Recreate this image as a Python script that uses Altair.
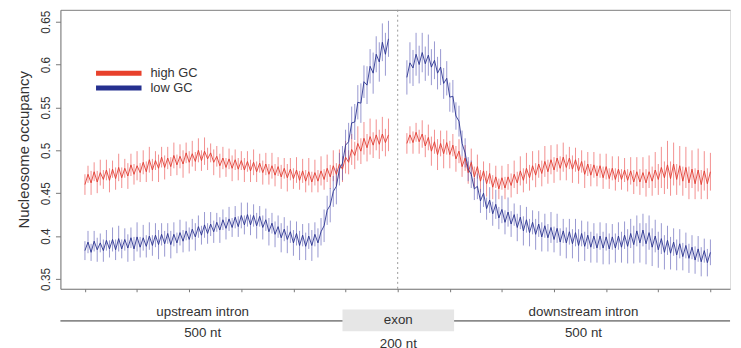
import altair as alt
import pandas as pd

# ---- data ----
upstream_nt = list(range(-500, 0, 5))      # 100 positions in the upstream intron
downstream_nt = list(range(5, 505, 5))     # 100 positions in the downstream intron

high_up = [0.460,0.472,0.462,0.475,0.463,0.474,0.466,0.477,0.465,0.478,
           0.467,0.480,0.468,0.479,0.470,0.483,0.472,0.482,0.474,0.486,
           0.475,0.489,0.477,0.488,0.479,0.492,0.480,0.491,0.481,0.494,
           0.483,0.493,0.484,0.497,0.486,0.496,0.487,0.500,0.488,0.499,
           0.490,0.497,0.486,0.493,0.482,0.491,0.480,0.490,0.479,0.489,
           0.478,0.488,0.477,0.487,0.476,0.486,0.475,0.485,0.474,0.484,
           0.472,0.482,0.471,0.481,0.469,0.479,0.468,0.478,0.467,0.477,
           0.465,0.476,0.464,0.475,0.463,0.474,0.464,0.476,0.466,0.479,
           0.469,0.482,0.472,0.484,0.478,0.492,0.486,0.501,0.494,0.508,
           0.499,0.514,0.503,0.516,0.506,0.518,0.507,0.519,0.509,0.518]
high_up_err = [0.012,0.010,0.014,0.011,0.013,0.015,0.011,0.012,0.014,0.010,
               0.013,0.016,0.012,0.011,0.015,0.013,0.012,0.017,0.011,0.014,
               0.012,0.015,0.013,0.011,0.016,0.012,0.014,0.013,0.011,0.015,
               0.012,0.014,0.016,0.012,0.013,0.015,0.011,0.014,0.012,0.016,
               0.013,0.011,0.015,0.012,0.014,0.013,0.011,0.012,0.015,0.012,
               0.013,0.011,0.014,0.012,0.013,0.015,0.012,0.011,0.014,0.013,
               0.012,0.015,0.013,0.011,0.014,0.012,0.016,0.013,0.012,0.015,
               0.011,0.014,0.013,0.016,0.012,0.015,0.013,0.017,0.012,0.016,
               0.014,0.018,0.013,0.017,0.015,0.019,0.014,0.018,0.016,0.020,
               0.015,0.019,0.016,0.021,0.015,0.018,0.017,0.020,0.016,0.019]

low_up = [0.383,0.393,0.381,0.394,0.384,0.392,0.383,0.395,0.385,0.396,
          0.384,0.397,0.385,0.396,0.386,0.398,0.385,0.399,0.387,0.398,
          0.388,0.400,0.389,0.401,0.390,0.402,0.391,0.403,0.390,0.402,
          0.392,0.404,0.394,0.406,0.396,0.408,0.399,0.411,0.401,0.413,
          0.403,0.414,0.405,0.416,0.407,0.419,0.409,0.420,0.410,0.422,
          0.411,0.424,0.413,0.425,0.413,0.424,0.412,0.423,0.410,0.419,
          0.405,0.415,0.402,0.411,0.398,0.408,0.396,0.405,0.392,0.403,
          0.389,0.401,0.388,0.400,0.389,0.402,0.392,0.405,0.412,0.430,
          0.436,0.452,0.458,0.478,0.485,0.506,0.510,0.532,0.533,0.556,
          0.555,0.580,0.576,0.598,0.590,0.612,0.603,0.626,0.612,0.630]
low_up_err = [0.011,0.013,0.010,0.012,0.014,0.011,0.013,0.012,0.010,0.014,
              0.012,0.015,0.011,0.013,0.016,0.012,0.014,0.017,0.012,0.015,
              0.013,0.016,0.012,0.014,0.017,0.013,0.015,0.012,0.016,0.014,
              0.012,0.015,0.013,0.011,0.014,0.012,0.016,0.013,0.011,0.015,
              0.012,0.014,0.013,0.011,0.015,0.012,0.013,0.014,0.011,0.013,
              0.012,0.015,0.011,0.014,0.012,0.013,0.015,0.012,0.014,0.013,
              0.016,0.012,0.015,0.013,0.017,0.014,0.016,0.013,0.015,0.014,
              0.017,0.013,0.016,0.015,0.018,0.014,0.017,0.016,0.019,0.017,
              0.020,0.018,0.021,0.019,0.020,0.018,0.022,0.019,0.021,0.020,
              0.023,0.019,0.022,0.020,0.024,0.021,0.023,0.022,0.025,0.021]

high_down = [0.508,0.518,0.509,0.521,0.510,0.519,0.505,0.515,0.499,0.510,
             0.495,0.508,0.496,0.509,0.495,0.506,0.490,0.499,0.481,0.491,
             0.474,0.486,0.469,0.481,0.464,0.476,0.461,0.473,0.457,0.469,
             0.455,0.468,0.456,0.469,0.459,0.472,0.462,0.476,0.465,0.479,
             0.468,0.482,0.471,0.484,0.473,0.487,0.475,0.489,0.477,0.491,
             0.479,0.492,0.480,0.491,0.478,0.489,0.476,0.487,0.472,0.484,
             0.471,0.483,0.470,0.482,0.468,0.481,0.467,0.479,0.466,0.478,
             0.466,0.477,0.465,0.476,0.463,0.475,0.463,0.474,0.462,0.475,
             0.464,0.477,0.466,0.480,0.468,0.483,0.467,0.484,0.466,0.482,
             0.464,0.480,0.462,0.478,0.461,0.477,0.460,0.476,0.461,0.475]
high_down_err = [0.012,0.010,0.013,0.011,0.014,0.016,0.013,0.015,0.017,0.014,
                 0.018,0.015,0.017,0.014,0.016,0.013,0.015,0.014,0.012,0.015,
                 0.013,0.016,0.012,0.014,0.013,0.011,0.015,0.012,0.014,0.013,
                 0.012,0.014,0.013,0.015,0.014,0.016,0.013,0.017,0.014,0.018,
                 0.015,0.017,0.014,0.016,0.015,0.018,0.014,0.017,0.015,0.016,
                 0.014,0.017,0.015,0.013,0.016,0.014,0.015,0.013,0.016,0.014,
                 0.013,0.015,0.012,0.014,0.013,0.015,0.012,0.014,0.013,0.015,
                 0.012,0.014,0.013,0.016,0.014,0.017,0.015,0.018,0.016,0.019,
                 0.017,0.021,0.018,0.024,0.019,0.028,0.020,0.025,0.018,0.023,
                 0.017,0.024,0.019,0.022,0.018,0.025,0.017,0.023,0.018,0.022]

low_down = [0.585,0.602,0.596,0.612,0.600,0.614,0.601,0.611,0.597,0.605,
            0.590,0.597,0.578,0.584,0.562,0.563,0.540,0.534,0.508,0.497,
            0.478,0.472,0.455,0.458,0.441,0.450,0.432,0.442,0.426,0.437,
            0.421,0.431,0.416,0.428,0.414,0.425,0.410,0.422,0.406,0.419,
            0.404,0.416,0.402,0.414,0.399,0.412,0.398,0.410,0.396,0.409,
            0.393,0.406,0.392,0.405,0.391,0.404,0.389,0.403,0.388,0.401,
            0.387,0.400,0.386,0.400,0.386,0.399,0.385,0.399,0.386,0.400,
            0.387,0.401,0.388,0.403,0.390,0.406,0.392,0.407,0.391,0.404,
            0.387,0.400,0.384,0.397,0.381,0.395,0.380,0.393,0.378,0.391,
            0.376,0.389,0.374,0.387,0.372,0.385,0.370,0.383,0.369,0.381]
low_down_err = [0.020,0.024,0.021,0.025,0.022,0.023,0.020,0.024,0.021,0.022,
                0.019,0.021,0.018,0.020,0.017,0.019,0.016,0.018,0.015,0.017,
                0.014,0.016,0.013,0.015,0.014,0.016,0.013,0.015,0.014,0.017,
                0.013,0.016,0.014,0.017,0.015,0.013,0.016,0.014,0.017,0.015,
                0.016,0.014,0.018,0.015,0.017,0.014,0.016,0.018,0.015,0.017,
                0.016,0.014,0.018,0.015,0.017,0.016,0.019,0.015,0.017,0.016,
                0.018,0.015,0.017,0.016,0.019,0.016,0.018,0.015,0.017,0.016,
                0.018,0.016,0.020,0.017,0.022,0.018,0.023,0.019,0.024,0.020,
                0.022,0.019,0.021,0.018,0.020,0.017,0.019,0.016,0.018,0.017,
                0.016,0.015,0.017,0.014,0.016,0.015,0.017,0.014,0.016,0.015]

series_names = ["high GC", "low GC"]
line_colors = ["#e23b30", "#2a3290"]
bar_colors = ["#ea4a4a", "#5858b4"]
legend_colors = ["#e8412c", "#25308f"]
y_ticks = [0.35, 0.4, 0.45, 0.5, 0.55, 0.6, 0.65]
x_ticks = [-510, -425, -340, -255, -170, -85, 0, 85, 170, 255, 340, 425, 510]

# annotation layout under the axis (positions in plot x units)
region_labels = ["upstream intron", "downstream intron"]
region_centers = [-318, 303]
region_len = ["500 nt", "500 nt"]
exon_label = ["exon"]
exon_len = ["200 nt"]
exon_center = [1]
exon_span = [-90, 92]
track_ends = [-550, 542]

# ---- build tables ----
rows = []
for name, seg, nts, shift, vals, errs in [
    ("high GC", "hu", upstream_nt, -10, high_up, high_up_err),
    ("low GC", "lu", upstream_nt, -10, low_up, low_up_err),
    ("high GC", "hd", downstream_nt, 10, high_down, high_down_err),
    ("low GC", "ld", downstream_nt, 10, low_down, low_down_err),
]:
    for nt, v, e in zip(nts, vals, errs):
        rows.append(dict(series=name, seg=seg, pos=nt + shift, v=v, lo=v - e, hi=v + e))
df = pd.DataFrame(rows)

xs = alt.Scale(domain=track_ends, nice=False, zero=False)
ys = alt.Scale(domain=[0.3385, 0.6638], nice=False, zero=False)
FONT = "Liberation Sans"

bars = alt.Chart(df).mark_rule(strokeWidth=1, opacity=0.62).encode(
    x=alt.X("pos:Q", scale=xs,
            axis=alt.Axis(values=x_ticks, labels=False, tickSize=3, title=None,
                          domainColor="#777", tickColor="#777", grid=False)),
    y=alt.Y("lo:Q", scale=ys,
            axis=alt.Axis(values=y_ticks, format=".2~f", labelAngle=270,
                          labelFontSize=12, labelFont=FONT, labelColor="#333",
                          labelPadding=3, tickSize=5, tickColor="#777",
                          domainColor="#777", grid=False,
                          title="Nucleosome occupancy", titleFont=FONT,
                          titleFontSize=15, titleFontWeight="normal",
                          titleColor="#333", titlePadding=8)),
    y2="hi:Q",
    color=alt.Color("series:N", legend=None,
                    scale=alt.Scale(domain=series_names, range=bar_colors)),
)

lines = alt.Chart(df).mark_line(strokeWidth=1, opacity=0.9).encode(
    x=alt.X("pos:Q", scale=xs, axis=None),
    y=alt.Y("v:Q", scale=ys),
    detail="seg:N",
    color=alt.Color("series:N", legend=None,
                    scale=alt.Scale(domain=series_names, range=line_colors)),
)

center = alt.Chart(pd.DataFrame({"pos": [0]})).mark_rule(
    color="#999", strokeDash=[2, 3], strokeWidth=1
).encode(
    x=alt.X("pos:Q", scale=xs,
            axis=alt.Axis(orient="top", labels=False, ticks=False, title=None,
                          domainColor="#888", grid=False)),
)

# legend drawn inside the plot, top left
legend_layers = []
for i, (name, col) in enumerate(zip(series_names, legend_colors)):
    yrow = 64 + 15 * i
    ldf = pd.DataFrame({"name": [name]})
    legend_layers.append(
        alt.Chart(ldf).mark_rule(color=col, strokeWidth=5).encode(
            x=alt.value(36), x2=alt.value(82), y=alt.value(yrow)))
    legend_layers.append(
        alt.Chart(ldf).mark_text(align="left", baseline="middle", font=FONT,
                                 fontSize=13, color="#333").encode(
            x=alt.value(91), y=alt.value(yrow), text="name:N"))

track = alt.Chart(pd.DataFrame({"a": [track_ends[0], exon_span[1]],
                                "b": [exon_span[0], track_ends[1]]})).mark_rule(
    color="#333", strokeWidth=1
).encode(x=alt.X("a:Q", scale=xs, axis=None), x2="b:Q", y=alt.value(314.5))

exon_box = alt.Chart(pd.DataFrame({"a": [exon_span[0]], "b": [exon_span[1]]})).mark_rect(
    color="#e6e6e6"
).encode(x=alt.X("a:Q", scale=xs, axis=None), x2="b:Q", y=alt.value(303), y2=alt.value(325))

reg_df = pd.DataFrame({"pos": region_centers, "name": region_labels, "len": region_len})
ex_df = pd.DataFrame({"pos": exon_center, "name": exon_label, "len": exon_len})

txt = dict(font=FONT, fontSize=13.5, color="#333")
names = alt.Chart(reg_df).mark_text(**txt).encode(
    x=alt.X("pos:Q", scale=xs, axis=None), y=alt.value(306), text="name:N")
lens = alt.Chart(reg_df).mark_text(**txt).encode(
    x=alt.X("pos:Q", scale=xs, axis=None), y=alt.value(327), text="len:N")
names_exon = alt.Chart(ex_df).mark_text(**txt).encode(
    x=alt.X("pos:Q", scale=xs, axis=None), y=alt.value(314), text="name:N")
len_exon = alt.Chart(ex_df).mark_text(**txt).encode(
    x=alt.X("pos:Q", scale=xs, axis=None), y=alt.value(338), text="len:N")

chart = alt.layer(
    bars, lines, center, exon_box, track, names, names_exon, lens, len_exon,
    *legend_layers
).resolve_scale(color="independent").resolve_axis(x="independent").properties(
    width=677, height=282,
    autosize=alt.AutoSizeParams(type="none"),
    padding={"left": 53, "top": 0, "right": 3, "bottom": 58},
).configure_view(strokeWidth=0).configure(background="white")

chart.save("out.html", embed_options={"renderer": "svg", "actions": False})
